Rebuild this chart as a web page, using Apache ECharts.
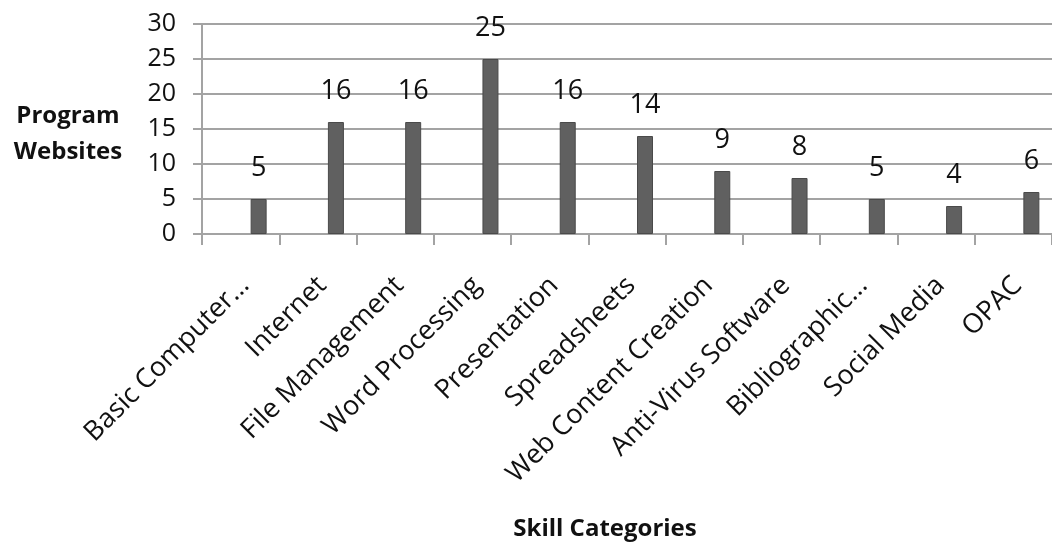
<!DOCTYPE html>
<html>
<head>
<meta charset="utf-8">
<script src="https://cdn.jsdelivr.net/npm/echarts@6/dist/echarts.min.js"></script>
<style>
  html, body { margin: 0; padding: 0; background: #fff; }
  #chart { width: 1052px; height: 547px; }
</style>
</head>
<body>
<div id="chart"></div>
<script>
// Skill categories covered by program websites
const categories = [
  'Basic Computer…', 'Internet', 'File Management', 'Word Processing',
  'Presentation', 'Spreadsheets', 'Web Content Creation', 'Anti-Virus Software',
  'Bibliographic…', 'Social Media', 'OPAC'
];
const websiteCounts = [5, 16, 16, 25, 16, 14, 9, 8, 5, 4, 6];
const yTicks = { min: 0, max: 30, interval: 5 };

const FONT = '"Open Sans", Lato, sans-serif';
const GRID_COLOR = '#a3a3a3';
const TEXT_COLOR = '#111';

const chart = echarts.init(document.getElementById('chart'));
chart.setOption({
  animation: false,
  backgroundColor: '#ffffff',
  textStyle: { fontFamily: FONT },
  grid: { left: 202, top: 24, bottom: 313, right: -6, containLabel: false },
  xAxis: {
    type: 'category',
    data: categories,
    axisLine: { lineStyle: { color: GRID_COLOR, width: 2 } },
    axisTick: { show: true, length: 11, lineStyle: { color: GRID_COLOR, width: 2 } },
    axisLabel: {
      interval: 0, rotate: 45, margin: 43,
      align: 'right', verticalAlign: 'top',
      lineHeight: 12,
      fontSize: 27, color: TEXT_COLOR, fontFamily: FONT
    }
  },
  yAxis: {
    type: 'value',
    min: yTicks.min, max: yTicks.max, interval: yTicks.interval,
    axisLine: { show: true, lineStyle: { color: GRID_COLOR, width: 2 } },
    axisTick: { show: true, length: 9, lineStyle: { color: GRID_COLOR, width: 2 } },
    splitLine: { lineStyle: { color: GRID_COLOR, width: 2 } },
    axisLabel: { margin: 26, fontSize: 25, color: TEXT_COLOR, fontFamily: FONT }
  },
  series: [
    {
      // empty companion series, keeps the bars in the right-hand slot of each category
      type: 'bar',
      data: categories.map(() => '-'),
      barWidth: 16,
      barGap: '125%',
      silent: true
    },
    {
      type: 'bar',
      name: 'Program Websites',
      data: websiteCounts,
      barWidth: 16,
      barGap: '125%',
      itemStyle: { color: '#606060', borderColor: '#4a4a4a', borderWidth: 1 },
      label: {
        show: true, position: 'top', distance: 17,
        fontSize: 27, color: TEXT_COLOR, fontFamily: FONT
      }
    }
  ],
  graphic: [
    {
      type: 'text', x: 68, y: 98,
      style: {
        text: 'Program\nWebsites', fill: TEXT_COLOR,
        font: 'bold 24px ' + FONT, lineHeight: 36, align: 'center'
      }
    },
    {
      type: 'text', x: 605, y: 517,
      style: {
        text: 'Skill Categories', fill: TEXT_COLOR,
        font: 'bold 24px ' + FONT, align: 'center'
      }
    }
  ]
});
</script>
</body>
</html>
